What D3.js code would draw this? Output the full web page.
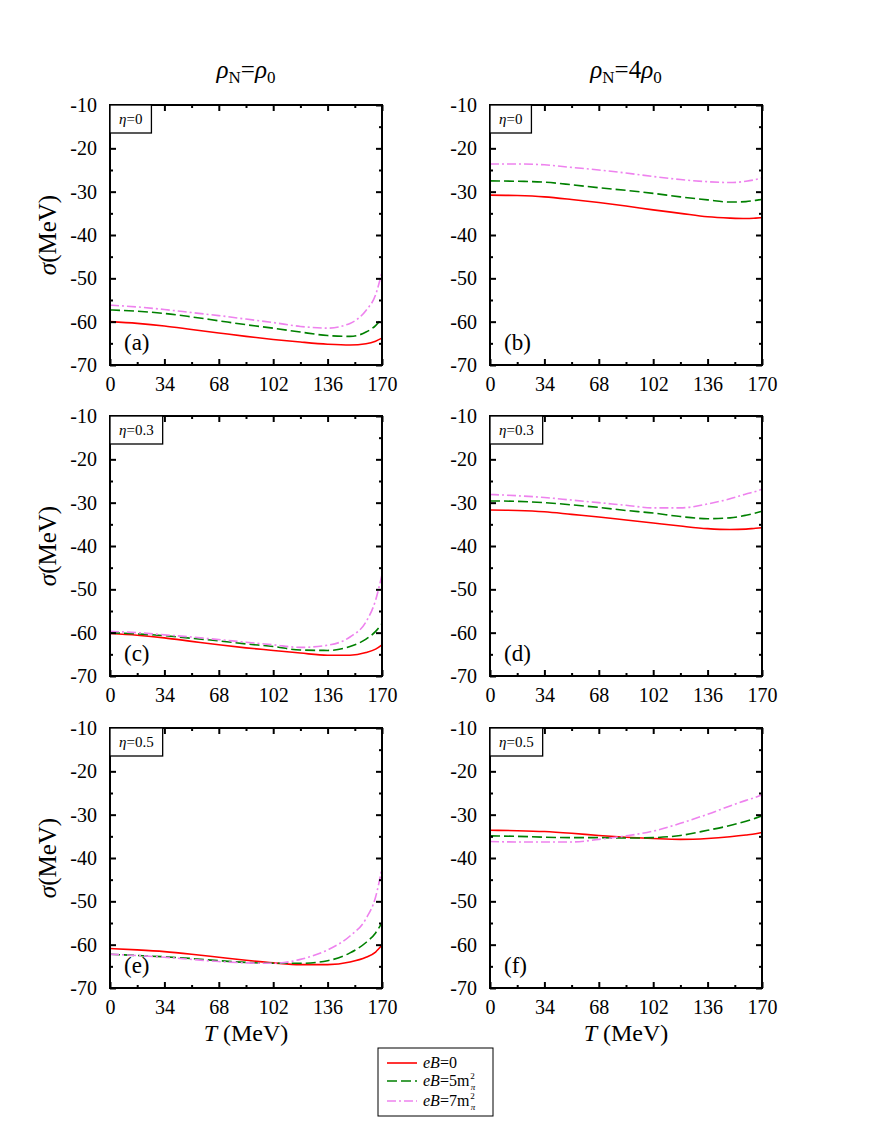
<!DOCTYPE html>
<html>
<head>
<meta charset="utf-8">
<script src="https://cdn.jsdelivr.net/npm/d3@7"></script>
<style>
body { margin: 0; background: #fff; }
svg text { font-family: "Liberation Serif", "Times New Roman", "DejaVu Serif", serif !important; }
</style>
</head>
<body>
<svg id="svg" width="871" height="1144"></svg>
<script>
// temperature grid (MeV) shared by every curve
var temps = [0, 17, 34, 51, 68, 85, 102, 119, 136, 150, 160, 166, 170];

// sigma (MeV), one array per panel and field
var aRed   = [-60.0, -60.4, -61.0, -61.8, -62.6, -63.4, -64.1, -64.7, -65.2, -65.4, -65.1, -64.5, -63.8];
var aGreen = [-57.3, -57.6, -58.1, -58.9, -59.8, -60.7, -61.5, -62.4, -63.2, -63.4, -62.4, -60.9, -59.2];
var aPink  = [-56.2, -56.6, -57.2, -57.9, -58.6, -59.4, -60.2, -61.1, -61.5, -60.4, -57.4, -53.8, -48.5];

var bRed   = [-30.8, -30.9, -31.2, -31.8, -32.5, -33.3, -34.2, -35.0, -35.8, -36.1, -36.2, -36.1, -36.0];
var bGreen = [-27.5, -27.6, -27.8, -28.4, -29.1, -29.7, -30.4, -31.2, -31.9, -32.4, -32.3, -32.0, -31.8];
var bPink  = [-23.6, -23.6, -23.8, -24.4, -25.0, -25.7, -26.5, -27.2, -27.7, -27.9, -27.6, -27.2, -26.8];

var cRed   = [-60.2, -60.6, -61.2, -62.0, -62.8, -63.5, -64.1, -64.7, -65.2, -65.2, -64.6, -63.8, -62.8];
var cGreen = [-60.0, -60.3, -60.7, -61.3, -61.9, -62.6, -63.2, -64.0, -64.1, -63.2, -61.5, -59.7, -57.9];
var cPink  = [-59.7, -60.0, -60.5, -61.0, -61.6, -62.2, -62.8, -63.4, -62.9, -61.0, -57.5, -52.5, -46.6];

var dRed   = [-31.7, -31.8, -32.1, -32.7, -33.3, -34.0, -34.7, -35.4, -36.0, -36.2, -36.1, -35.9, -35.8];
var dGreen = [-29.6, -29.7, -30.0, -30.5, -31.1, -31.8, -32.4, -33.2, -33.7, -33.5, -32.9, -32.4, -32.0];
var dPink  = [-28.1, -28.4, -28.8, -29.4, -30.0, -30.6, -31.2, -31.2, -30.3, -29.1, -28.0, -27.4, -26.9];

var eRed   = [-60.9, -61.2, -61.6, -62.2, -62.9, -63.6, -64.2, -64.6, -64.6, -64.0, -62.9, -61.7, -60.1];
var eGreen = [-62.2, -62.5, -62.8, -63.2, -63.7, -64.1, -64.3, -64.3, -63.7, -61.9, -59.5, -57.3, -54.9];
var ePink  = [-62.2, -62.5, -62.9, -63.4, -63.9, -64.2, -64.3, -63.4, -61.2, -58.0, -54.0, -49.0, -42.3];

var fRed   = [-33.6, -33.7, -33.9, -34.3, -34.8, -35.2, -35.5, -35.7, -35.5, -35.1, -34.7, -34.4, -34.1];
var fGreen = [-34.9, -35.0, -35.2, -35.3, -35.3, -35.4, -35.3, -34.8, -33.6, -32.5, -31.5, -30.8, -30.3];
var fPink  = [-36.2, -36.3, -36.3, -36.3, -35.7, -34.9, -33.8, -32.0, -29.9, -28.0, -26.7, -26.0, -25.4];

var panelLabels = ["(a)", "(b)", "(c)", "(d)", "(e)", "(f)"];
var etaLabels = ["0", "0", "0.3", "0.3", "0.5", "0.5"];
var panelSeries = [
    [aRed, aGreen, aPink], [bRed, bGreen, bPink],
    [cRed, cGreen, cPink], [dRed, dGreen, dPink],
    [eRed, eGreen, ePink], [fRed, fGreen, fPink]
];

var xTicks = [0, 34, 68, 102, 136, 170];
var xMinor = [17, 51, 85, 119, 153];
var yTicks = [-10, -20, -30, -40, -50, -60, -70];
var yMinor = [-15, -25, -35, -45, -55, -65];

// line styles for eB = 0, 5, 7 m_pi^2
var colors = ["#ff0000", "#008000", "#ee82ee"];
var dashes = [null, "10,4", "9,3,2,3"];
var legendNames = ["0", "5", "7"];

var svg = d3.select("#svg");

var colLeft = [110, 490];
var rowTop = [105, 416, 728];
var plotW = 272, plotH = 260;

var x = d3.scaleLinear().domain([0, 170]).range([0, plotW]);
var y = d3.scaleLinear().domain([-70, -10]).range([plotH, 0]);

var line = d3.line()
    .x(d => x(d[0]))
    .y(d => y(d[1]))
    .curve(d3.curveMonotoneX);

function drawPanel(index)
{
    var col = index % 2;
    var row = Math.floor(index / 2);
    var g = svg.append("g")
        .attr("transform", `translate(${colLeft[col]},${rowTop[row]})`);

    // Curves first, the frame goes on top
    var series = panelSeries[index];
    for (var s = 0; s < series.length; s ++)
    {
        var pts = temps.map((t, i) => [t, series[s][i]]);
        g.append("path")
            .attr("d", line(pts))
            .attr("fill", "none")
            .attr("stroke", colors[s])
            .attr("stroke-width", 1.6)
            .attr("stroke-dasharray", dashes[s]);
    }

    // Inward ticks on all four sides (plain hyphen for the minus sign)
    var fmt = d => String(d);
    g.append("g").attr("transform", `translate(0,${plotH})`)
        .call(d3.axisBottom(x).tickValues(xTicks).tickSize(-6).tickPadding(12).tickFormat(fmt));
    g.append("g").attr("transform", `translate(0,${plotH})`)
        .call(d3.axisBottom(x).tickValues(xMinor).tickSize(-3).tickFormat(""));
    g.append("g")
        .call(d3.axisTop(x).tickValues(xTicks).tickSize(-6).tickFormat(""));
    g.append("g")
        .call(d3.axisTop(x).tickValues(xMinor).tickSize(-3).tickFormat(""));

    g.append("g")
        .call(d3.axisLeft(y).tickValues(yTicks).tickSize(-6).tickPadding(13).tickFormat(fmt));
    g.append("g")
        .call(d3.axisLeft(y).tickValues(yMinor).tickSize(-3).tickFormat(""));
    g.append("g").attr("transform", `translate(${plotW},0)`)
        .call(d3.axisRight(y).tickValues(yTicks).tickSize(-6).tickFormat(""));
    g.append("g").attr("transform", `translate(${plotW},0)`)
        .call(d3.axisRight(y).tickValues(yMinor).tickSize(-3).tickFormat(""));

    g.selectAll(".domain").remove();
    g.selectAll(".tick line").attr("stroke", "#000").attr("stroke-width", 2);
    g.selectAll(".tick text")
        .attr("fill", "#000")
        .attr("font-size", 20);

    g.append("rect")
        .attr("width", plotW)
        .attr("height", plotH)
        .attr("fill", "none")
        .attr("stroke", "#000")
        .attr("stroke-width", 2);

    // eta box in the upper left corner
    var etaBox = g.append("rect")
        .attr("x", 0)
        .attr("y", 0)
        .attr("height", 28)
        .attr("fill", "#fff")
        .attr("stroke", "#000")
        .attr("stroke-width", 1.3);
    var etaText = g.append("text")
        .attr("x", 9)
        .attr("y", 19)
        .attr("font-size", 15);
    etaText.append("tspan").attr("font-style", "italic").text("η");
    etaText.append("tspan").text("=" + etaLabels[index]);
    etaBox.attr("width", etaText.node().getComputedTextLength() + 18);

    g.append("text")
        .attr("x", 14)
        .attr("y", plotH - 15)
        .attr("font-size", 23)
        .text(panelLabels[index]);

    // Y title only for the left column, X title only for the bottom row
    if (col == 0)
    {
        var yt = g.append("text")
            .attr("transform", `translate(-54,${plotH / 2}) rotate(-90)`)
            .attr("text-anchor", "middle")
            .attr("font-size", 25);
        yt.append("tspan").attr("font-style", "italic").text("σ");
        yt.append("tspan").text("(MeV)");
    }
    if (row == 2)
    {
        var xt = g.append("text")
            .attr("x", plotW / 2)
            .attr("y", plotH + 53)
            .attr("text-anchor", "middle")
            .attr("font-size", 24);
        xt.append("tspan").attr("font-style", "italic").text("T");
        xt.append("tspan").text(" (MeV)");
    }
}

for (var p = 0; p < 6; p ++)
{
    drawPanel(p);
}

// Column titles: rho_N = rho_0 and rho_N = 4 rho_0
var titleCoef = ["", "4"];
for (var c = 0; c < 2; c ++)
{
    var t = svg.append("text")
        .attr("x", colLeft[c] + plotW / 2)
        .attr("y", 78)
        .attr("text-anchor", "middle")
        .attr("font-size", 25);
    t.append("tspan").attr("font-style", "italic").text("ρ");
    t.append("tspan").attr("font-size", 17).attr("dy", 5).text("N");
    t.append("tspan").attr("dy", -5).text("=" + titleCoef[c]);
    t.append("tspan").attr("font-style", "italic").text("ρ");
    t.append("tspan").attr("font-size", 17).attr("dy", 5).text("0");
}

// Legend
var legend = svg.append("g").attr("transform", "translate(378,1048)");
legend.append("rect")
    .attr("width", 115)
    .attr("height", 68)
    .attr("fill", "#fff")
    .attr("stroke", "#000")
    .attr("stroke-width", 1);

var rowY = [15, 33, 53];
for (var i = 0; i < 3; i ++)
{
    legend.append("line")
        .attr("x1", 9).attr("x2", 39)
        .attr("y1", rowY[i]).attr("y2", rowY[i])
        .attr("stroke", colors[i])
        .attr("stroke-width", 1.6)
        .attr("stroke-dasharray", dashes[i]);
    var lt = legend.append("text")
        .attr("x", 45)
        .attr("y", rowY[i] + 5)
        .attr("font-size", 16);
    lt.append("tspan").attr("font-style", "italic").text("eB");
    if (i == 0)
    {
        lt.append("tspan").text("=0");
    }
    else
    {
        // m with the 2 raised and the pi lowered under it
        lt.append("tspan").text("=" + legendNames[i] + "m");
        lt.append("tspan").attr("font-size", 9).attr("dx", 1).attr("dy", -7).text("2");
        lt.append("tspan").attr("font-size", 9).attr("font-style", "italic").attr("dx", -4).attr("dy", 11).text("π");
    }
}
</script>
</body>
</html>
